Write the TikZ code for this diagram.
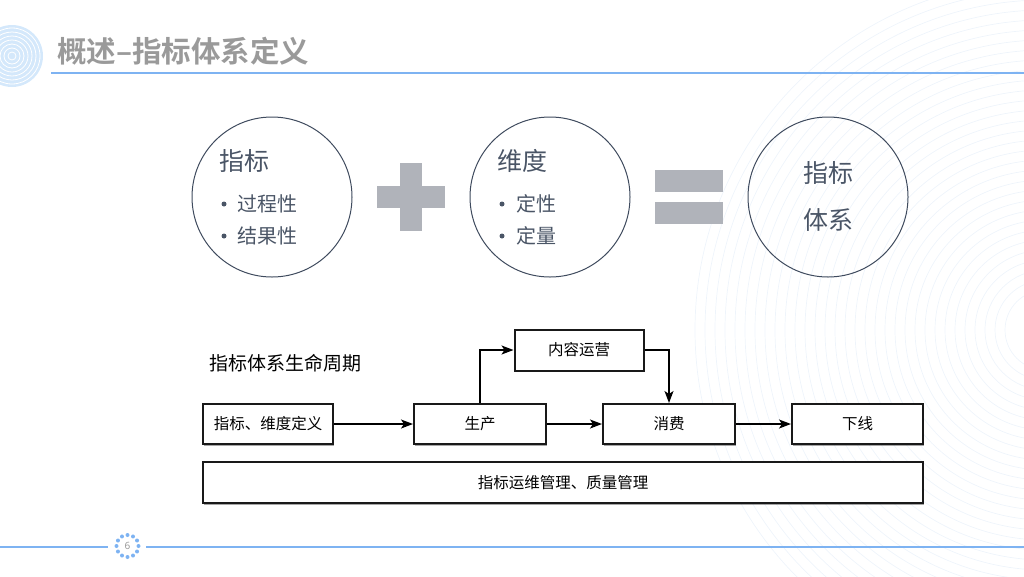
\documentclass[tikz,border=0pt]{standalone}
\usepackage{fontspec}
\setmainfont{Noto Sans}
\newfontfamily\cjk{Noto Sans CJK SC}
\newfontfamily\cjkb{Noto Sans CJK SC Bold}
\usetikzlibrary{arrows.meta,calc,shadows}
\definecolor{titlegray}{HTML}{9A9A9A}
\definecolor{lineblue}{HTML}{7EB3F2}
\definecolor{ringblue}{HTML}{D4E8FB}
\definecolor{arcblue}{HTML}{EEF4FB}
\definecolor{cborder}{HTML}{3F4B5E}
\definecolor{ctext}{HTML}{4A5566}
\definecolor{opgray}{HTML}{B0B3BA}
\tikzset{
  bigcircle/.style={circle, draw=cborder, line width=1pt, minimum size=160pt, inner sep=0pt},
  head/.style={anchor=west, text=ctext, font=\cjk\fontsize{25}{25}\selectfont, inner sep=0pt},
  item/.style={anchor=west, text=ctext, font=\cjk\fontsize{20}{20}\selectfont, inner sep=0pt},
  flowbox/.style={draw=black!90, line width=2pt, fill=white, minimum height=40pt, inner sep=0pt,
    font=\cjk\fontsize{15.5}{15.5}\selectfont,
    drop shadow={shadow xshift=1.2pt, shadow yshift=-1.8pt, opacity=0.35, fill=black}},
  arr/.style={-{Stealth[length=12pt,width=9pt,inset=3pt]}, line width=1.4pt, black},
  bulletdot/.style={circle, fill=ctext, inner sep=0pt, minimum size=5pt}
}
\begin{document}
\begin{tikzpicture}[x=1pt,y=-1pt]
\useasboundingbox (0,0) rectangle (1024,576);
% faint background arcs
\begin{scope}
\clip (0,0) rectangle (1024,576);
\foreach \r in {40,50,...,350} {
  \draw[arcblue, line width=0.7pt] (1045,330) circle[radius=\r];
}
\end{scope}
% top-left ring decoration
\fill[ringblue] (12,56) circle[radius=31];
\foreach \r in {4,8,...,28} {
  \draw[white, line width=0.8pt] (12,56) circle[radius=\r];
}
% title
\node[anchor=west, text=titlegray, font=\cjkb\fontsize{29.5}{29.5}\selectfont, inner sep=0pt] (title) at (57,51) {概述–指标体系定义};
\draw[lineblue, line width=2pt] (51,73) -- (1024,73);
% circles
\node[bigcircle] (c1) at (272,197) {};
\node[head] (c1h) at (219,161) {指标};
\node[bulletdot] (c1b1) at (224,204) {};
\node[item] (c1i1) at (237,204) {过程性};
\node[bulletdot] (c1b2) at (224,236) {};
\node[item] (c1i2) at (237,236) {结果性};

\fill[opgray] (377,186) rectangle (445,208);
\fill[opgray] (400,163) rectangle (422,231);

\node[bigcircle] (c2) at (550,197) {};
\node[head] (c2h) at (497,161) {维度};
\node[bulletdot] (c2b1) at (502,204) {};
\node[item] (c2i1) at (516,204) {定性};
\node[bulletdot] (c2b2) at (502,236) {};
\node[item] (c2i2) at (516,236) {定量};

\fill[opgray] (655,170) rectangle (723,192);
\fill[opgray] (655,202) rectangle (723,224);

\node[bigcircle] (c3) at (828,197) {};
\node[text=ctext, font=\cjk\fontsize{25}{25}\selectfont, inner sep=0pt] (c3a) at (828,173) {指标};
\node[text=ctext, font=\cjk\fontsize{25}{25}\selectfont, inner sep=0pt] (c3b) at (828,220) {体系};

% lifecycle
\node[anchor=west, font=\cjk\fontsize{19}{19}\selectfont, inner sep=0pt] (lc) at (209,363) {指标体系生命周期};
\node[flowbox, minimum width=130pt] (b1) at (268,424) {指标、维度定义};
\node[flowbox, minimum width=132pt] (b2) at (480,424) {生产};
\node[flowbox, minimum width=132pt] (b3) at (669,424) {消费};
\node[flowbox, minimum width=131pt] (b4) at (857.5,424) {下线};
\node[flowbox, minimum width=129pt, minimum height=41pt] (ops) at (579,350) {内容运营};
\node[flowbox, minimum width=720pt, minimum height=41pt] (mgmt) at (563,482.5) {指标运维管理、质量管理};

\draw[arr] (b1) -- (b2);
\draw[arr] (b2) -- (b3);
\draw[arr] (b3) -- (b4);
\draw[arr] (b2.north) |- (ops.west);
\draw[arr] (ops.east) -| (b3.north);

% footer
\draw[lineblue, line width=2pt] (0,546.5) -- (108,546.5);
\draw[lineblue, line width=2pt] (146,546.5) -- (1024,546.5);
\foreach \a in {0,30,...,330} {
  \fill[lineblue] ($(127.5,546)+(\a:11)$) circle[radius=2];
}
\node[text=titlegray, font=\fontsize{10}{10}\selectfont, inner sep=0pt] (pg) at (127.5,546) {6};
\end{tikzpicture}
\end{document}
